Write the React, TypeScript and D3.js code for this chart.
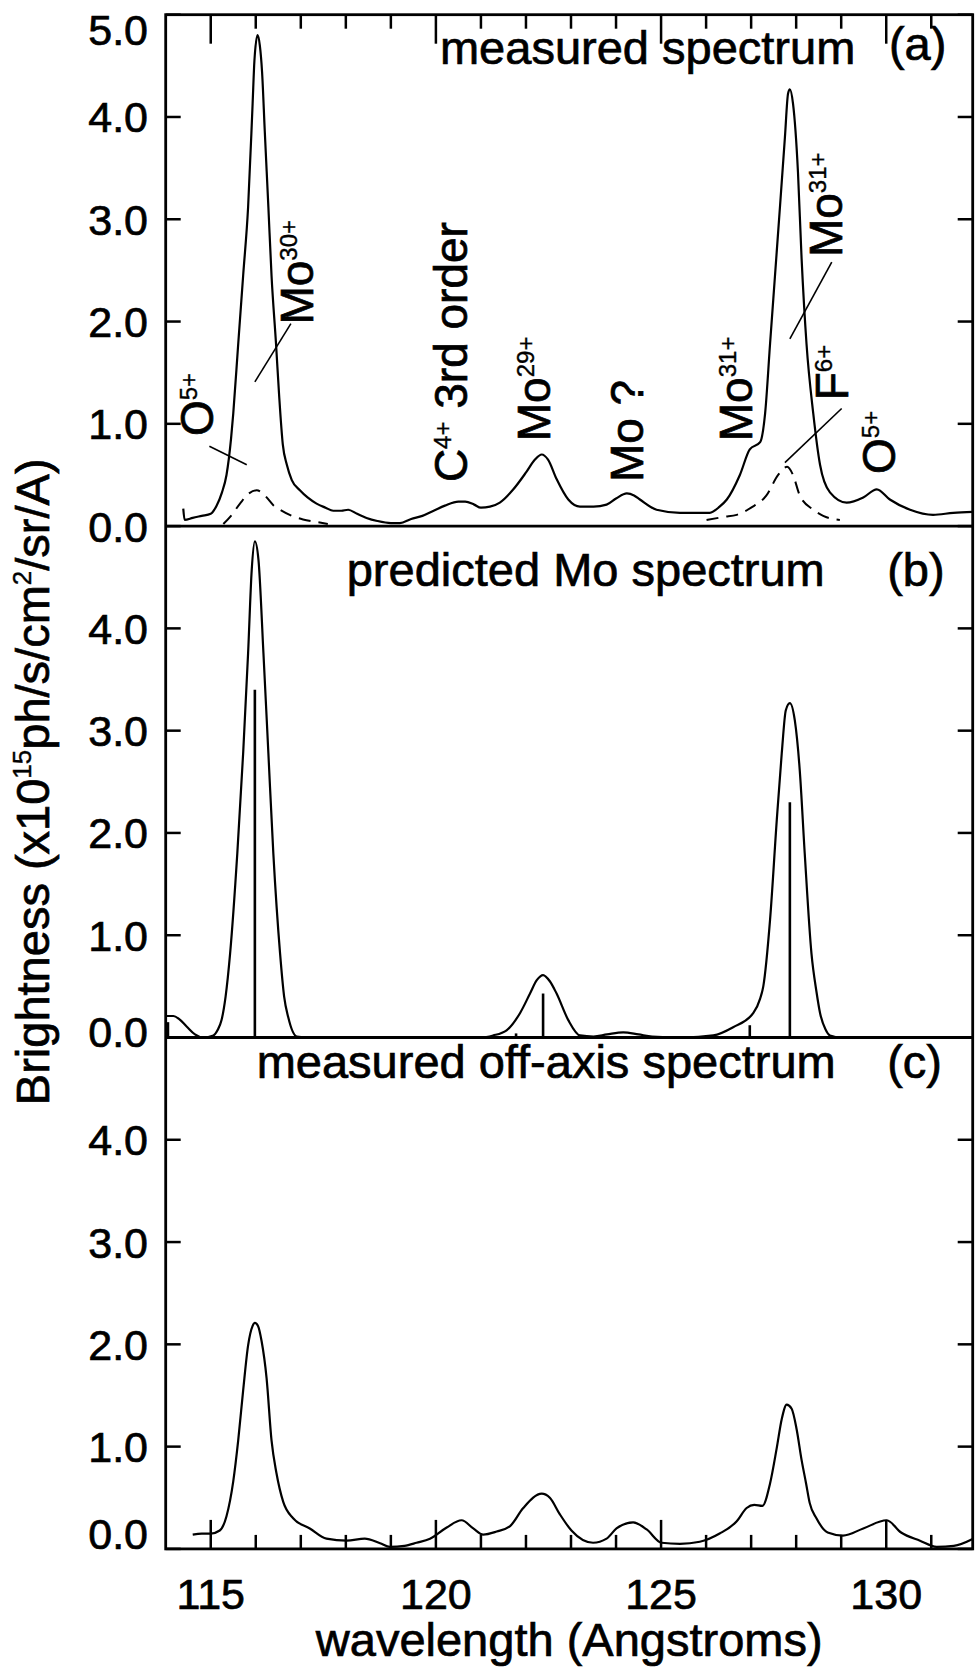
import React from "react";
import * as d3 from "d3";

// wavelength (Angstroms), brightness (x1e15 ph/s/cm2/sr/A)
const measuredA: [number, number][] = [
  [114.39, 0.17], [114.42, 0.06], [114.6, 0.08], [114.8, 0.1], [115.0, 0.12],
  [115.13, 0.2], [115.25, 0.33], [115.35, 0.5], [115.45, 0.85], [115.5, 1.1],
  [115.61, 1.78], [115.72, 2.45], [115.83, 3.12], [115.93, 4.13], [115.97, 4.55],
  [116.04, 4.8], [116.09, 4.7], [116.14, 4.44], [116.2, 3.86], [116.28, 3.12],
  [116.35, 2.45], [116.45, 1.78], [116.52, 1.27], [116.6, 0.8], [116.69, 0.6],
  [116.8, 0.45], [116.98, 0.35], [117.15, 0.28], [117.35, 0.22], [117.55, 0.18],
  [117.72, 0.15], [117.9, 0.15], [118.05, 0.16], [118.25, 0.12], [118.46, 0.08],
  [118.7, 0.05], [119.0, 0.03], [119.2, 0.03], [119.45, 0.07], [119.7, 0.1],
  [119.95, 0.15], [120.2, 0.2], [120.5, 0.24], [120.65, 0.24], [120.85, 0.21],
  [121.0, 0.18], [121.2, 0.19], [121.42, 0.23], [121.72, 0.36], [122.01, 0.53],
  [122.2, 0.65], [122.35, 0.7], [122.49, 0.65], [122.68, 0.46], [122.94, 0.26],
  [123.2, 0.19], [123.5, 0.19], [123.79, 0.21], [124.0, 0.27], [124.24, 0.32],
  [124.4, 0.3], [124.53, 0.26], [124.9, 0.16], [125.42, 0.13], [125.8, 0.13],
  [126.08, 0.13], [126.3, 0.19], [126.46, 0.26], [126.75, 0.5], [126.97, 0.75],
  [127.2, 0.82], [127.31, 1.1], [127.42, 1.78], [127.53, 2.45], [127.64, 3.12],
  [127.75, 3.8], [127.82, 4.23], [127.86, 4.27], [127.93, 4.13], [128.04, 3.46],
  [128.12, 2.62], [128.23, 1.78], [128.38, 1.1], [128.53, 0.6], [128.75, 0.33],
  [129.12, 0.23], [129.49, 0.28], [129.79, 0.36], [130.08, 0.26], [130.53, 0.16],
  [131.04, 0.11], [131.49, 0.13], [131.92, 0.14],
];

const fitA1: [number, number][] = [
  [115.28, 0.02], [115.45, 0.1], [115.65, 0.22], [115.85, 0.32], [116.02, 0.35],
  [116.2, 0.3], [116.4, 0.2], [116.54, 0.16], [116.8, 0.1], [117.05, 0.065],
  [117.35, 0.04], [117.6, 0.02],
];

const fitA2: [number, number][] = [
  [126.01, 0.06], [126.4, 0.09], [126.68, 0.11], [127.0, 0.18], [127.34, 0.3],
  [127.6, 0.5], [127.8, 0.58], [127.93, 0.5], [128.08, 0.3], [128.38, 0.16],
  [128.6, 0.1], [128.97, 0.06],
];

const predictedB: [number, number][] = [
  [114.0, 0.21], [114.17, 0.21], [114.3, 0.18], [114.47, 0.105], [114.65, 0.03],
  [114.83, 0.0], [115.06, 0.02], [115.15, 0.07], [115.24, 0.17], [115.33, 0.4],
  [115.43, 0.82], [115.59, 1.8], [115.72, 2.78], [115.83, 3.76], [115.91, 4.57],
  [115.98, 4.85], [116.06, 4.67], [116.17, 3.76], [116.28, 2.78], [116.39, 1.8],
  [116.54, 0.82], [116.63, 0.4], [116.72, 0.2], [116.91, 0.01], [117.2, 0.0],
  [121.0, 0.0], [121.27, 0.02], [121.57, 0.07], [121.87, 0.24], [122.09, 0.43],
  [122.24, 0.56], [122.38, 0.61], [122.53, 0.55], [122.68, 0.43], [122.94, 0.17],
  [123.2, 0.02], [123.5, 0.01], [123.8, 0.03], [124.16, 0.05], [124.5, 0.03],
  [124.8, 0.01], [125.5, 0.0], [126.16, 0.02], [126.6, 0.1], [127.05, 0.24],
  [127.2, 0.38], [127.27, 0.5], [127.42, 1.15], [127.57, 2.13], [127.68, 2.78],
  [127.77, 3.2], [127.86, 3.27], [127.97, 3.1], [128.08, 2.61], [128.19, 1.8],
  [128.34, 0.82], [128.45, 0.45], [128.53, 0.24], [128.65, 0.08], [128.75, 0.02],
  [129.0, 0.0], [131.92, 0.0],
];

const predictedSticks: [number, number][] = [
  [114.05, 0.15], [115.98, 3.4], [121.78, 0.04], [122.38, 0.43], [126.97, 0.12], [127.86, 2.3],
];

const offAxisC: [number, number][] = [
  [114.6, 0.14], [114.8, 0.15], [115.0, 0.15], [115.2, 0.18], [115.35, 0.32],
  [115.5, 0.66], [115.61, 1.06], [115.72, 1.55], [115.83, 1.99], [115.93, 2.18],
  [115.98, 2.21], [116.05, 2.18], [116.13, 2.03], [116.24, 1.67], [116.35, 1.06],
  [116.46, 0.74], [116.61, 0.46], [116.83, 0.3], [117.2, 0.2], [117.57, 0.1],
  [118.02, 0.08], [118.42, 0.1], [118.76, 0.055], [118.98, 0.02], [119.3, 0.03],
  [119.57, 0.06], [119.87, 0.1], [120.24, 0.21], [120.57, 0.28], [120.83, 0.2],
  [121.05, 0.14], [121.35, 0.17], [121.64, 0.22], [121.94, 0.4], [122.35, 0.54],
  [122.53, 0.5], [122.75, 0.34], [123.01, 0.18], [123.49, 0.06], [123.79, 0.1],
  [124.01, 0.2], [124.38, 0.26], [124.68, 0.19], [125.01, 0.06], [125.42, 0.05],
  [125.86, 0.07], [126.3, 0.15], [126.68, 0.27], [126.9, 0.4], [127.07, 0.43],
  [127.25, 0.42], [127.42, 0.64], [127.57, 0.99], [127.68, 1.27], [127.79, 1.41],
  [127.9, 1.37], [128.01, 1.17], [128.12, 0.87], [128.22, 0.64], [128.3, 0.45],
  [128.45, 0.3], [128.7, 0.16], [129.04, 0.13], [129.49, 0.2], [130.01, 0.28],
  [130.33, 0.16], [130.75, 0.08], [131.12, 0.02], [131.5, 0.03], [131.93, 0.1],
];

const xTickLabels = [115, 120, 125, 130];
const yTicksTop = [0, 1, 2, 3, 4, 5];
const yTicksLower = [0, 1, 2, 3, 4];

const titles = [
  { text: "measured spectrum", tag: "(a)" },
  { text: "predicted Mo spectrum", tag: "(b)" },
  { text: "measured off-axis spectrum", tag: "(c)" },
];

// line identifications in panel (a): [wavelength, brightness] of the label start
const linesA = [
  { wl: 115.05, v: 0.88, base: "O", sup: "5+" },
  { wl: 117.27, v: 1.97, base: "Mo", sup: "30+" },
  { wl: 120.68, v: 0.43, base: "C", sup: "4+", rest: " 3rd order" },
  { wl: 122.53, v: 0.83, base: "Mo", sup: "29+" },
  { wl: 124.6, v: 0.43, base: "Mo ?" },
  { wl: 127.02, v: 0.83, base: "Mo", sup: "31+" },
  { wl: 129.02, v: 2.63, base: "Mo", sup: "31+" },
  { wl: 129.15, v: 1.23, base: "F", sup: "6+" },
  { wl: 130.19, v: 0.51, base: "O", sup: "5+" },
];

const leadersA: [number, number][][] = [
  [[114.97, 0.78], [115.8, 0.6]],
  [[116.78, 1.98], [115.98, 1.41]],
  [[128.79, 2.58], [127.86, 1.83]],
  [[129.01, 1.15], [127.75, 0.62]],
];

const font = "'Liberation Sans', Arial, Helvetica, sans-serif";
// slightly heavier glyphs, like the scanned figure
const ink = { fill: "#000", stroke: "#000", strokeWidth: 0.7 };
const left = 165.7;
const right = 972.7;
const top = 14.7;
const panelH = 511.4;
const panelTops = [top, top + panelH, top + 2 * panelH];

const x = d3.scaleLinear().domain([114, 131.92]).range([left, right]);
const yScale = (i: number) =>
  d3.scaleLinear().domain([0, 5]).range([panelTops[i] + panelH, panelTops[i]]);

const RotLabel = ({ px, py, base, sup, rest, size }: any) => (
  <text
    transform={`translate(${px},${py}) rotate(-90)`}
    fontSize={size}
    fontFamily={font}
    {...ink}
    style={{ whiteSpace: "pre" }}
  >
    {base}
    {sup && (
      <tspan fontSize={24} dy={-16} strokeWidth={0.4}>
        {sup}
      </tspan>
    )}
    {rest && (
      <tspan fontSize={size} dy={16}>
        {rest}
      </tspan>
    )}
  </text>
);

const Panel = ({ index, children }: any) => {
  const y = yScale(index);
  const ticks = index === 0 ? yTicksTop : yTicksLower;
  const t = titles[index];
  return (
    <g>
      {ticks.map((v) => {
        let shift = 0;
        if (v === 5) shift = 15;
        if (v === 0 && index === 1) shift = -6;
        if (v === 0 && index === 2) shift = -15;
        return (
          <g key={v}>
            <line x1={left} x2={left + 15} y1={y(v)} y2={y(v)} stroke="#000" strokeWidth={2.5} />
            <line x1={right - 15} x2={right} y1={y(v)} y2={y(v)} stroke="#000" strokeWidth={2.5} />
            <text
              x={148}
              y={y(v) + shift}
              dy="0.36em"
              textAnchor="end"
              fontSize={43}
              fontFamily={font}
              {...ink}
            >
              {v.toFixed(1)}
            </text>
          </g>
        );
      })}
      <text x={x(index === 0 ? 120.09 : index === 1 ? 118.02 : 116.02)} y={y(index === 1 ? 4.41 : index === 0 ? 4.52 : 4.6)} fontSize={47} fontFamily={font} {...ink}>
        {t.text}
      </text>
      <text x={x(index === 0 ? 130.06 : 130.02)} y={y(index === 0 ? 4.56 : index === 1 ? 4.41 : 4.6)} fontSize={47} fontFamily={font} {...ink}>
        {t.tag}
      </text>
      {children}
    </g>
  );
};

const XTicks = ({ y0, dir }: { y0: number; dir: number }) => (
  <g>
    {d3.range(115, 132).map((w) => {
      const major = xTickLabels.includes(w);
      return (
        <line
          key={w}
          x1={x(w)}
          x2={x(w)}
          y1={y0}
          y2={y0 + dir * (major ? 29 : 14)}
          stroke="#000"
          strokeWidth={2.5}
        />
      );
    })}
  </g>
);

const App = () => {
  const ya = yScale(0);
  const yb = yScale(1);
  const yc = yScale(2);
  const lineA = d3.line<[number, number]>().x((d) => x(d[0])).y((d) => ya(d[1])).curve(d3.curveMonotoneX);
  const lineB = d3.line<[number, number]>().x((d) => x(d[0])).y((d) => yb(d[1])).curve(d3.curveMonotoneX);
  const lineC = d3.line<[number, number]>().x((d) => x(d[0])).y((d) => yc(d[1])).curve(d3.curveMonotoneX);
  const leader = d3.line<[number, number]>().x((d) => x(d[0])).y((d) => ya(d[1]));
  const bottom = panelTops[2] + panelH;

  return (
    <svg
      width={976}
      height={1673}
      style={{ position: "absolute", left: 0, top: 0, background: "#fff" }}
    >
      <Panel index={0}>
        <path d={lineA(measuredA) || ""} fill="none" stroke="#000" strokeWidth={2.2} />
        <path d={lineA(fitA1) || ""} fill="none" stroke="#000" strokeWidth={2} strokeDasharray="12,8" />
        <path d={lineA(fitA2) || ""} fill="none" stroke="#000" strokeWidth={2} strokeDasharray="12,8" />
        {leadersA.map((l, i) => (
          <path key={i} d={leader(l) || ""} stroke="#000" strokeWidth={1.6} fill="none" />
        ))}
        {linesA.map((l, i) => (
          <RotLabel key={i} px={x(l.wl)} py={ya(l.v)} base={l.base} sup={l.sup} rest={l.rest} size={46} />
        ))}
        <XTicks y0={top} dir={1} />
      </Panel>
      <Panel index={1}>
        <path d={lineB(predictedB) || ""} fill="none" stroke="#000" strokeWidth={2.2} />
        {predictedSticks.map((s, i) => (
          <line key={i} x1={x(s[0])} x2={x(s[0])} y1={yb(0)} y2={yb(s[1])} stroke="#000" strokeWidth={2.6} />
        ))}
      </Panel>
      <Panel index={2}>
        <path d={lineC(offAxisC) || ""} fill="none" stroke="#000" strokeWidth={2.2} />
        <XTicks y0={bottom} dir={-1} />
      </Panel>

      <rect x={left} y={top} width={right - left} height={bottom - top} fill="none" stroke="#000" strokeWidth={2.8} />
      <line x1={left} x2={right} y1={panelTops[1]} y2={panelTops[1]} stroke="#000" strokeWidth={2.8} />
      <line x1={left} x2={right} y1={panelTops[2]} y2={panelTops[2]} stroke="#000" strokeWidth={2.8} />

      {xTickLabels.map((w) => (
        <text key={w} x={x(w)} y={1609} textAnchor="middle" fontSize={43} fontFamily={font} {...ink}>
          {w}
        </text>
      ))}
      <text x={(left + right) / 2} y={1656} textAnchor="middle" fontSize={47} fontFamily={font} {...ink}>
        wavelength (Angstroms)
      </text>
      <text
        transform={`translate(49,${(top + bottom) / 2}) rotate(-90)`}
        textAnchor="middle"
        fontSize={47}
        fontFamily={font}
        {...ink}
      >
        Brightness (x10
        <tspan fontSize={26} dy={-18} strokeWidth={0.4}>15</tspan>
        <tspan dy={18}>ph/s/cm</tspan>
        <tspan fontSize={26} dy={-18} strokeWidth={0.4}>2</tspan>
        <tspan dy={18}>/sr/A)</tspan>
      </text>
    </svg>
  );
};

export default App;
